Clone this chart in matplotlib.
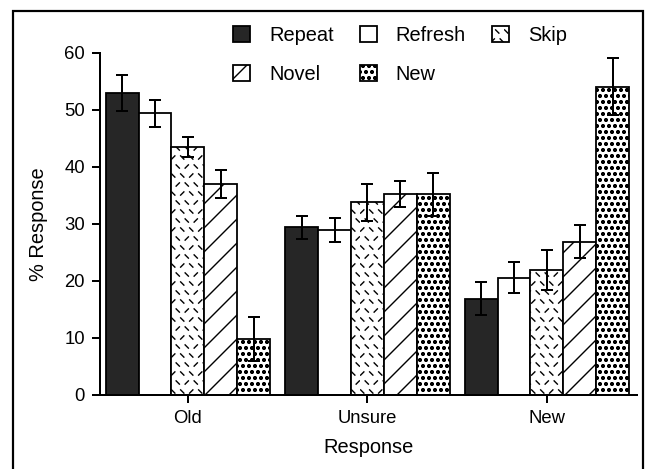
import warnings
import numpy as np
import matplotlib
matplotlib.use('Agg')
import matplotlib.pyplot as plt
import matplotlib.hatch as mhatch
from matplotlib.path import Path
from matplotlib.patches import Rectangle

warnings.filterwarnings('ignore', message='hatch must consist')

groups = ['Old', 'Unsure', 'New']
conditions = ['Repeat', 'Refresh', 'Skip', 'Novel', 'New']
repeat = [53.0, 29.4, 16.9]
refresh = [49.4, 29.0, 20.6]
skip = [43.5, 33.8, 21.9]
novel = [37.0, 35.2, 26.9]
new = [9.8, 35.2, 54.1]
repeat_err = [3.2, 2.0, 2.9]
refresh_err = [2.4, 2.1, 2.8]
skip_err = [1.7, 3.2, 3.5]
novel_err = [2.4, 2.3, 2.9]
new_err = [3.9, 3.8, 5.0]


class DashHatch(mhatch.HatchPatternBase):
    # short scattered dashes for the Skip bars ('k' in the hatch string)
    def __init__(self, hatch, density):
        self.num_rows = hatch.count('k') * (density + 2)
        self.num_vertices = 2 * self.num_rows ** 2

    def set_vertices_and_codes(self, vertices, codes):
        n = self.num_rows
        d = 0.18 / n
        k = 0
        for i in range(n):
            for j in range(n):
                cx = (j + 0.25 + 0.5 * (i % 2)) / n
                cy = (i + 0.5) / n
                s = 1 if (i + j) % 3 == 0 else -1
                vertices[k] = (cx - d, cy - s * d)
                vertices[k + 1] = (cx + d, cy + s * d)
                codes[k] = Path.MOVETO
                codes[k + 1] = Path.LINETO
                k += 2


mhatch._hatch_types.append(DashHatch)

plt.rcParams['font.family'] = ['Liberation Sans', 'DejaVu Sans']
plt.rcParams['hatch.linewidth'] = 1.4

fig = plt.figure(figsize=(649 / 72, 469 / 72), dpi=72)
ax = fig.add_axes([0.154, 0.158, 0.827, 0.729])

values = [repeat, refresh, skip, novel, new]
errors = [repeat_err, refresh_err, skip_err, novel_err, new_err]
colors = ['#262626', 'white', 'white', 'white', 'white']
hatches = [None, None, 'k', '/', 'oo']
w = 0.183
x = np.arange(len(groups))
bars = []
for i in range(len(conditions)):
    pos = x + (i - 2) * w
    b = ax.bar(pos, values[i], w, color=colors[i], edgecolor='black',
               linewidth=1.8, hatch=hatches[i], label=conditions[i], zorder=2)
    bars.append(b)
    ax.errorbar(pos, values[i], yerr=errors[i], fmt='none', ecolor='black',
                elinewidth=2, capsize=6, capthick=2, zorder=3)

ax.set_xlim(-0.49, 2.5)
ax.set_ylim(0, 60)
ax.set_yticks(range(0, 61, 10))
ax.set_xticks(x)
ax.set_xticklabels(groups)
ax.tick_params(axis='both', labelsize=18.5, width=2, length=8, pad=7)
for s in ['top', 'right']:
    ax.spines[s].set_visible(False)
for s in ['left', 'bottom']:
    ax.spines[s].set_linewidth(2)
ax.set_ylabel('% Response', fontsize=20, labelpad=16)
ax.set_xlabel('Response', fontsize=20, labelpad=11)

order = [0, 3, 1, 4, 2]
fig.legend([bars[i] for i in order], [conditions[i] for i in order],
           loc='upper left', bbox_to_anchor=(233 / 649, 1 - 26 / 469),
           ncol=3, frameon=False, fontsize=20, borderpad=0, borderaxespad=0,
           handlelength=0.85, handleheight=0.85, handletextpad=0.95,
           columnspacing=1.3, labelspacing=1.0)

fig.patches.append(Rectangle((13 / 649, -0.02), 630 / 649, 1 - 11 / 469 + 0.02,
                             transform=fig.transFigure, fill=False,
                             edgecolor='black', linewidth=2.2))

fig.savefig('out.png', dpi=72)
